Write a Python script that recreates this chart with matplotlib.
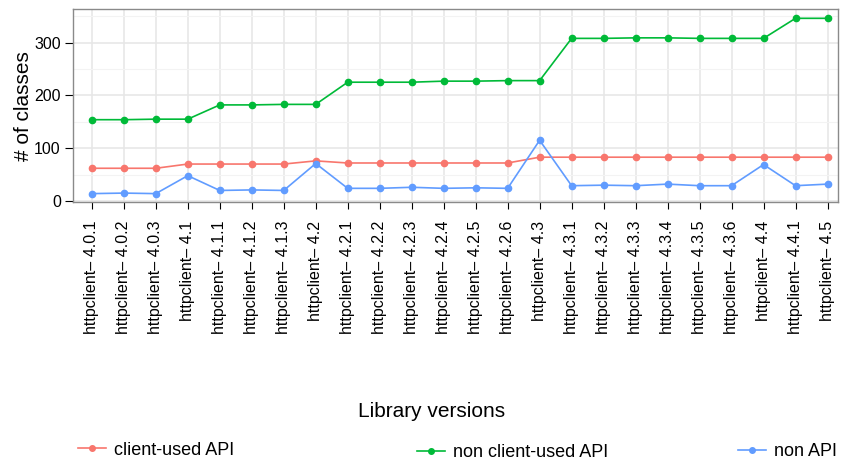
import numpy as np
import matplotlib
matplotlib.use('Agg')
import matplotlib.pyplot as plt
from matplotlib.lines import Line2D

plt.rcParams['font.family'] = ['Liberation Sans', 'DejaVu Sans']

versions = ['4.0.1', '4.0.2', '4.0.3', '4.1', '4.1.1', '4.1.2', '4.1.3', '4.2',
            '4.2.1', '4.2.2', '4.2.3', '4.2.4', '4.2.5', '4.2.6', '4.3',
            '4.3.1', '4.3.2', '4.3.3', '4.3.4', '4.3.5', '4.3.6', '4.4', '4.4.1', '4.5']
labels = ['httpclient\u2013 ' + v for v in versions]

client_used = [62, 62, 62, 70, 70, 70, 70, 76, 72, 72, 72, 72, 72, 72, 83,
               83, 83, 83, 83, 83, 83, 83, 83, 83]
non_client_used = [154, 154, 155, 155, 182, 182, 183, 183, 225, 225, 225, 227, 227, 228, 228,
                   308, 308, 309, 309, 308, 308, 308, 346, 346]
non_api = [14, 15, 14, 48, 20, 21, 20, 71, 24, 24, 26, 24, 25, 24, 115,
           29, 30, 29, 32, 29, 29, 69, 29, 32]

c_red = '#F8766D'
c_green = '#00BA38'
c_blue = '#619CFF'

fig = plt.figure(figsize=(8.42, 4.72), dpi=100)
ax = fig.add_axes([0.087, 0.571, 0.9087, 0.409])

x = np.arange(len(versions))
ax.plot(x, client_used, color=c_red, lw=1.2, marker='o', ms=4.5, zorder=3)
ax.plot(x, non_client_used, color=c_green, lw=1.2, marker='o', ms=4.5, zorder=3)
ax.plot(x, non_api, color=c_blue, lw=1.2, marker='o', ms=4.5, zorder=3)

ax.set_xlim(-0.58, len(versions) - 1 + 0.34)
ax.set_ylim(-2.8, 362.8)
ax.set_xticks(x)
ax.set_xticklabels(labels, rotation=90, fontsize=11.5)
ax.set_yticks([0, 100, 200, 300])
ax.set_yticks([50, 150, 250, 350], minor=True)
ax.tick_params(axis='y', labelsize=11.5, length=5.5, width=0.8, colors='black')
ax.tick_params(axis='y', which='minor', length=0)
ax.tick_params(axis='x', length=5, width=0.8, pad=8)

ax.grid(True, which='major', color='#e6e6e6', lw=1.1, zorder=0)
ax.grid(True, which='minor', axis='y', color='#f3f3f3', lw=0.8, zorder=0)
ax.set_axisbelow(True)
for s in ax.spines.values():
    s.set_color('#8a8a8a')
    s.set_linewidth(1.0)

ax.set_ylabel('# of classes', fontsize=15, labelpad=1)
fig.text(0.5125, 0.129, 'Library versions', fontsize=15, ha='center', va='center')

# legend entries sit spread across the bottom, one legend each
series = [('client-used API', c_red, (0.0926, 0.0466)),
          ('non client-used API', c_green, (0.4952, 0.0409)),
          ('non API', c_blue, (0.8765, 0.0424))]
for name, col, pos in series:
    h = Line2D([], [], color=col, lw=1.2, marker='o', ms=4)
    fig.legend([h], [name], loc='center left', bbox_to_anchor=pos, frameon=False,
               fontsize=13, handlelength=1.55, handletextpad=0.45, borderpad=0, borderaxespad=0)

fig.savefig('out.png', dpi=100)
